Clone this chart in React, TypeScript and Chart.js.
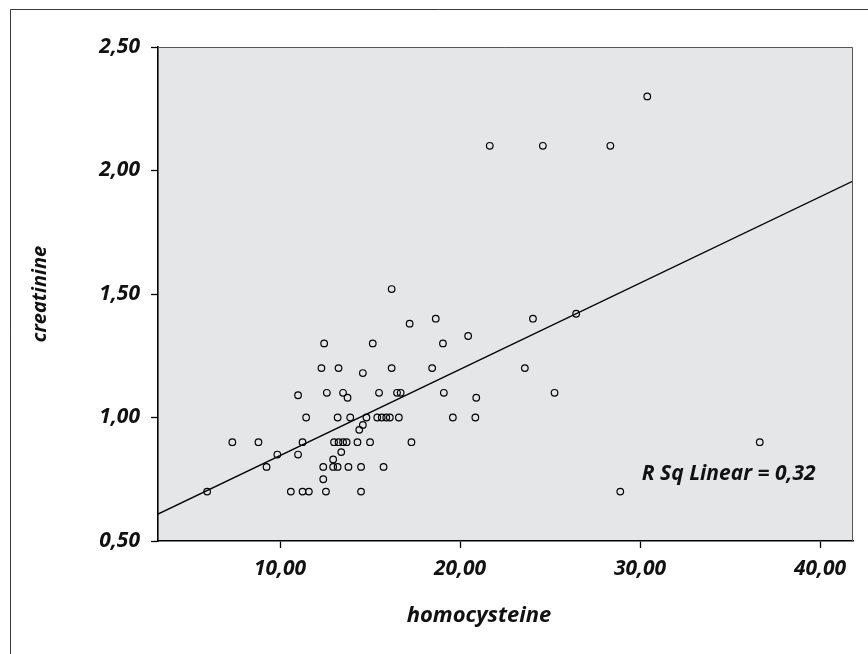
import React, { useEffect, useRef } from "react";
import { Chart, registerables } from "chart.js";

Chart.register(...registerables);

// homocysteine (x) and creatinine (y), paired by index
const homocysteine = [
  5.95, 10.6, 11.25, 11.6, 12.55, 14.5, 28.9,
  12.4,
  9.25, 12.4, 12.95, 13.2, 13.8, 14.5, 15.75,
  12.95,
  9.85, 11.0,
  13.4,
  7.35, 8.8, 11.25, 13.0, 13.25, 13.5, 13.7, 14.3, 15.0, 17.3, 36.65,
  14.4,
  14.6,
  11.45, 13.2, 13.9, 14.8, 15.4, 15.65, 15.9, 16.1, 16.6, 19.6, 20.85,
  13.75, 20.9,
  11.0,
  12.6, 13.5, 15.5, 16.5, 16.7, 19.1, 25.25,
  14.6,
  12.3, 13.25, 16.2, 18.45, 23.6,
  12.45, 15.15, 19.05,
  20.45,
  17.2,
  18.65, 24.05,
  26.45,
  16.2,
  21.65, 24.6, 28.35,
  30.4,
];
const creatinine = [
  0.7, 0.7, 0.7, 0.7, 0.7, 0.7, 0.7,
  0.75,
  0.8, 0.8, 0.8, 0.8, 0.8, 0.8, 0.8,
  0.83,
  0.85, 0.85,
  0.86,
  0.9, 0.9, 0.9, 0.9, 0.9, 0.9, 0.9, 0.9, 0.9, 0.9, 0.9,
  0.95,
  0.97,
  1.0, 1.0, 1.0, 1.0, 1.0, 1.0, 1.0, 1.0, 1.0, 1.0, 1.0,
  1.08, 1.08,
  1.09,
  1.1, 1.1, 1.1, 1.1, 1.1, 1.1, 1.1,
  1.18,
  1.2, 1.2, 1.2, 1.2, 1.2,
  1.3, 1.3, 1.3,
  1.33,
  1.38,
  1.4, 1.4,
  1.42,
  1.52,
  2.1, 2.1, 2.1,
  2.3,
];

const xTicks = [10, 20, 30, 40];
const yTicks = [0.5, 1.0, 1.5, 2.0, 2.5];
const xRange = [3.22, 41.83];
const yRange = [0.5, 2.5];

// fitted linear regression
const fitIntercept = 0.4966;
const fitSlope = 0.03491;
const rSqLabel = "R Sq Linear = 0,32";
const rSqAt = [30.1, 0.77];

const xTitle = "homocysteine";
const yTitle = "creatinine";

const FONT_FAMILY = "'Open Sans', 'DejaVu Sans', sans-serif";
const fmt = (v: number) => v.toFixed(2).replace(".", ",");

const decorPlugin = {
  id: "decor",
  beforeDraw(chart: any) {
    const { ctx, chartArea: a } = chart;
    ctx.save();
    ctx.fillStyle = "#ffffff";
    ctx.fillRect(0, 0, chart.width, chart.height);
    // outer frame
    ctx.strokeStyle = "#3a3a3a";
    ctx.lineWidth = 1;
    ctx.beginPath();
    ctx.moveTo(10.5, chart.height + 2);
    ctx.lineTo(10.5, 9.5);
    ctx.lineTo(chart.width + 2, 9.5);
    ctx.stroke();
    // plot background
    ctx.fillStyle = "#e5e6e8";
    ctx.fillRect(a.left, a.top, a.right - a.left, a.bottom - a.top);
    ctx.restore();
  },
  afterDraw(chart: any) {
    const { ctx, chartArea: a, scales } = chart;
    ctx.save();
    ctx.strokeStyle = "#555555";
    ctx.lineWidth = 1;
    ctx.beginPath();
    ctx.moveTo(a.left, a.top + 0.5);
    ctx.lineTo(a.right - 0.5, a.top + 0.5);
    ctx.lineTo(a.right - 0.5, a.bottom);
    ctx.stroke();

    ctx.fillStyle = "#111111";
    ctx.font = `italic 700 22px ${FONT_FAMILY}`;
    ctx.textAlign = "center";
    ctx.textBaseline = "middle";
    ctx.fillText(xTitle, 479, 616);
    ctx.save();
    ctx.font = `italic 700 20px ${FONT_FAMILY}`;
    ctx.translate(40, (a.top + a.bottom) / 2);
    ctx.rotate(-Math.PI / 2);
    ctx.fillText(yTitle, 0, 0);
    ctx.restore();

    ctx.font = `italic 700 21px ${FONT_FAMILY}`;
    ctx.textAlign = "left";
    ctx.fillText(
      rSqLabel,
      scales.x.getPixelForValue(rSqAt[0]),
      scales.y.getPixelForValue(rSqAt[1])
    );
    ctx.restore();
  },
};

export default function App() {
  const ref = useRef<HTMLCanvasElement | null>(null);
  useEffect(() => {
    if (!ref.current) return;
    const points = homocysteine.map((x, i) => ({ x, y: creatinine[i] }));
    const fitLine = xRange.map((x) => ({ x, y: fitIntercept + fitSlope * x }));
    const tickFont = { family: FONT_FAMILY, size: 21, style: "italic" as const, weight: "700" as any };
    const chart = new Chart(ref.current, {
      type: "scatter",
      data: {
        datasets: [
          {
            label: "fit",
            type: "line",
            data: fitLine,
            borderColor: "#000000",
            borderWidth: 1.3,
            pointRadius: 0,
            fill: false,
          } as any,
          {
            label: "creatinine",
            data: points,
            pointRadius: 3.3,
            pointBorderWidth: 1.2,
            pointBorderColor: "#000000",
            pointBackgroundColor: "rgba(0,0,0,0)",
          },
        ],
      },
      options: {
        animation: false,
        responsive: false,
        devicePixelRatio: 1,
        layout: { padding: { top: 47, right: 15, left: 0, bottom: 0 } },
        plugins: { legend: { display: false }, tooltip: { enabled: false } },
        scales: {
          x: {
            type: "linear",
            min: xRange[0],
            max: xRange[1],
            afterBuildTicks: (s: any) => {
              s.ticks = xTicks.map((value) => ({ value }));
            },
            afterFit: (s: any) => {
              s.height = 113;
              s.paddingLeft = 0;
              s.paddingRight = 0;
            },
            ticks: {
              callback: (v: any) => fmt(Number(v)),
              font: tickFont,
              color: "#111111",
              padding: 8,
              maxRotation: 0,
            },
            grid: { drawOnChartArea: false, drawTicks: true, tickLength: 7, color: "#000000", tickWidth: 1.3 },
            border: { display: true, color: "#000000", width: 1.6 },
          },
          y: {
            type: "linear",
            min: yRange[0],
            max: yRange[1],
            afterBuildTicks: (s: any) => {
              s.ticks = yTicks.map((value) => ({ value }));
            },
            afterFit: (s: any) => {
              s.width = 158;
              s.paddingTop = 0;
              s.paddingBottom = 0;
            },
            ticks: {
              callback: (v: any) => fmt(Number(v)),
              font: tickFont,
              color: "#111111",
              padding: 11,
            },
            grid: { drawOnChartArea: false, drawTicks: true, tickLength: 7, color: "#000000", tickWidth: 1.3 },
            border: { display: true, color: "#000000", width: 1.6 },
          },
        },
      },
      plugins: [decorPlugin],
    });
    return () => chart.destroy();
  }, []);
  return (
    <div style={{ position: "fixed", left: 0, top: 0, width: 868, height: 654 }}>
      <canvas ref={ref} width={868} height={654} style={{ display: "block" }} />
    </div>
  );
}
